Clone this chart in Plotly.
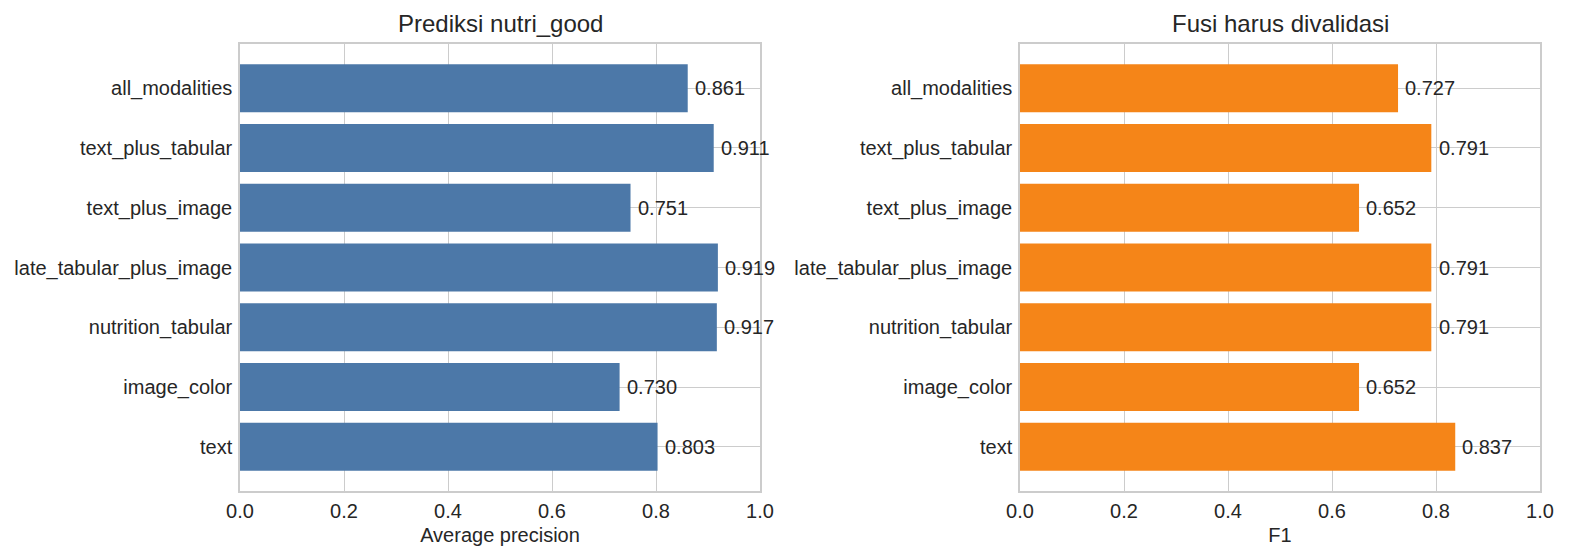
import plotly.graph_objects as go
from plotly.subplots import make_subplots

categories = ["text", "image_color", "nutrition_tabular", "late_tabular_plus_image",
              "text_plus_image", "text_plus_tabular", "all_modalities"]
ap_values = [0.803, 0.730, 0.917, 0.919, 0.751, 0.911, 0.861]
f1_values = [0.837, 0.652, 0.791, 0.791, 0.652, 0.791, 0.727]
titles = ["Prediksi nutri_good", "Fusi harus divalidasi"]
xlabels = ["Average precision", "F1"]
colors = ["#4C78A8", "#F58518"]
tick_vals = [0.0, 0.2, 0.4, 0.6, 0.8, 1.0]

W, H = 1569, 559
OFF = 8  # page body margin
FONT = "Liberation Sans, Arial, sans-serif"
TXT = "#262626"

fig = make_subplots(rows=1, cols=2)
series = [ap_values, f1_values]
for i, vals in enumerate(series):
    fig.add_trace(go.Bar(
        x=vals, y=list(range(len(categories))), orientation="h",
        width=0.8, marker=dict(color=colors[i], line=dict(width=0)),
        showlegend=False, hoverinfo="skip"), row=1, col=i + 1)
    for j, v in enumerate(vals):
        fig.add_annotation(x=v + 0.01, y=j, text=f"{v:.3f}", showarrow=False,
                           xanchor="left", yanchor="middle",
                           xref=f"x{'' if i == 0 else i + 1}",
                           yref=f"y{'' if i == 0 else i + 1}",
                           font=dict(family=FONT, size=20, color=TXT))

doms = [[(240 - OFF) / W, (760 - OFF) / W], [(1020 - OFF) / W, (1540 - OFF) / W]]
ydom = [(H - 491 + OFF) / H, (H - 44 + OFF) / H]
for i in range(2):
    xa = "xaxis" if i == 0 else "xaxis2"
    ya = "yaxis" if i == 0 else "yaxis2"
    fig.layout[xa].update(
        domain=doms[i], range=[0, 1], tickvals=tick_vals, automargin=False,
        ticktext=[f"{t:.1f}" for t in tick_vals],
        showgrid=True, gridcolor="#cccccc", gridwidth=1.2,
        showline=True, mirror=True, linecolor="#cccccc", linewidth=1.5,
        zeroline=False, ticks="outside", ticklen=1, tickcolor="rgba(0,0,0,0)",
        tickfont=dict(family=FONT, size=20, color=TXT),
        title=dict(text=xlabels[i], font=dict(family=FONT, size=20, color=TXT), standoff=7))
    fig.layout[ya].update(
        domain=ydom, range=[-0.74, 6.74], automargin=False,
        tickvals=list(range(len(categories))), ticktext=categories,
        showgrid=True, gridcolor="#cccccc", gridwidth=1.2,
        showline=True, mirror=True, linecolor="#cccccc", linewidth=1.5,
        zeroline=False, ticks="outside", ticklen=2, tickcolor="rgba(0,0,0,0)",
        tickfont=dict(family=FONT, size=20, color=TXT))
    fig.add_annotation(x=(doms[i][0] + doms[i][1]) / 2, y=(H - 24 + OFF) / H,
                       xref="paper", yref="paper", text=titles[i], showarrow=False,
                       xanchor="center", yanchor="middle",
                       font=dict(family=FONT, size=24, color=TXT))

fig.update_layout(width=W, height=H, margin=dict(l=0, r=0, t=0, b=0),
                  plot_bgcolor="white", paper_bgcolor="white", bargap=0.2)
fig.write_html("out.html")
